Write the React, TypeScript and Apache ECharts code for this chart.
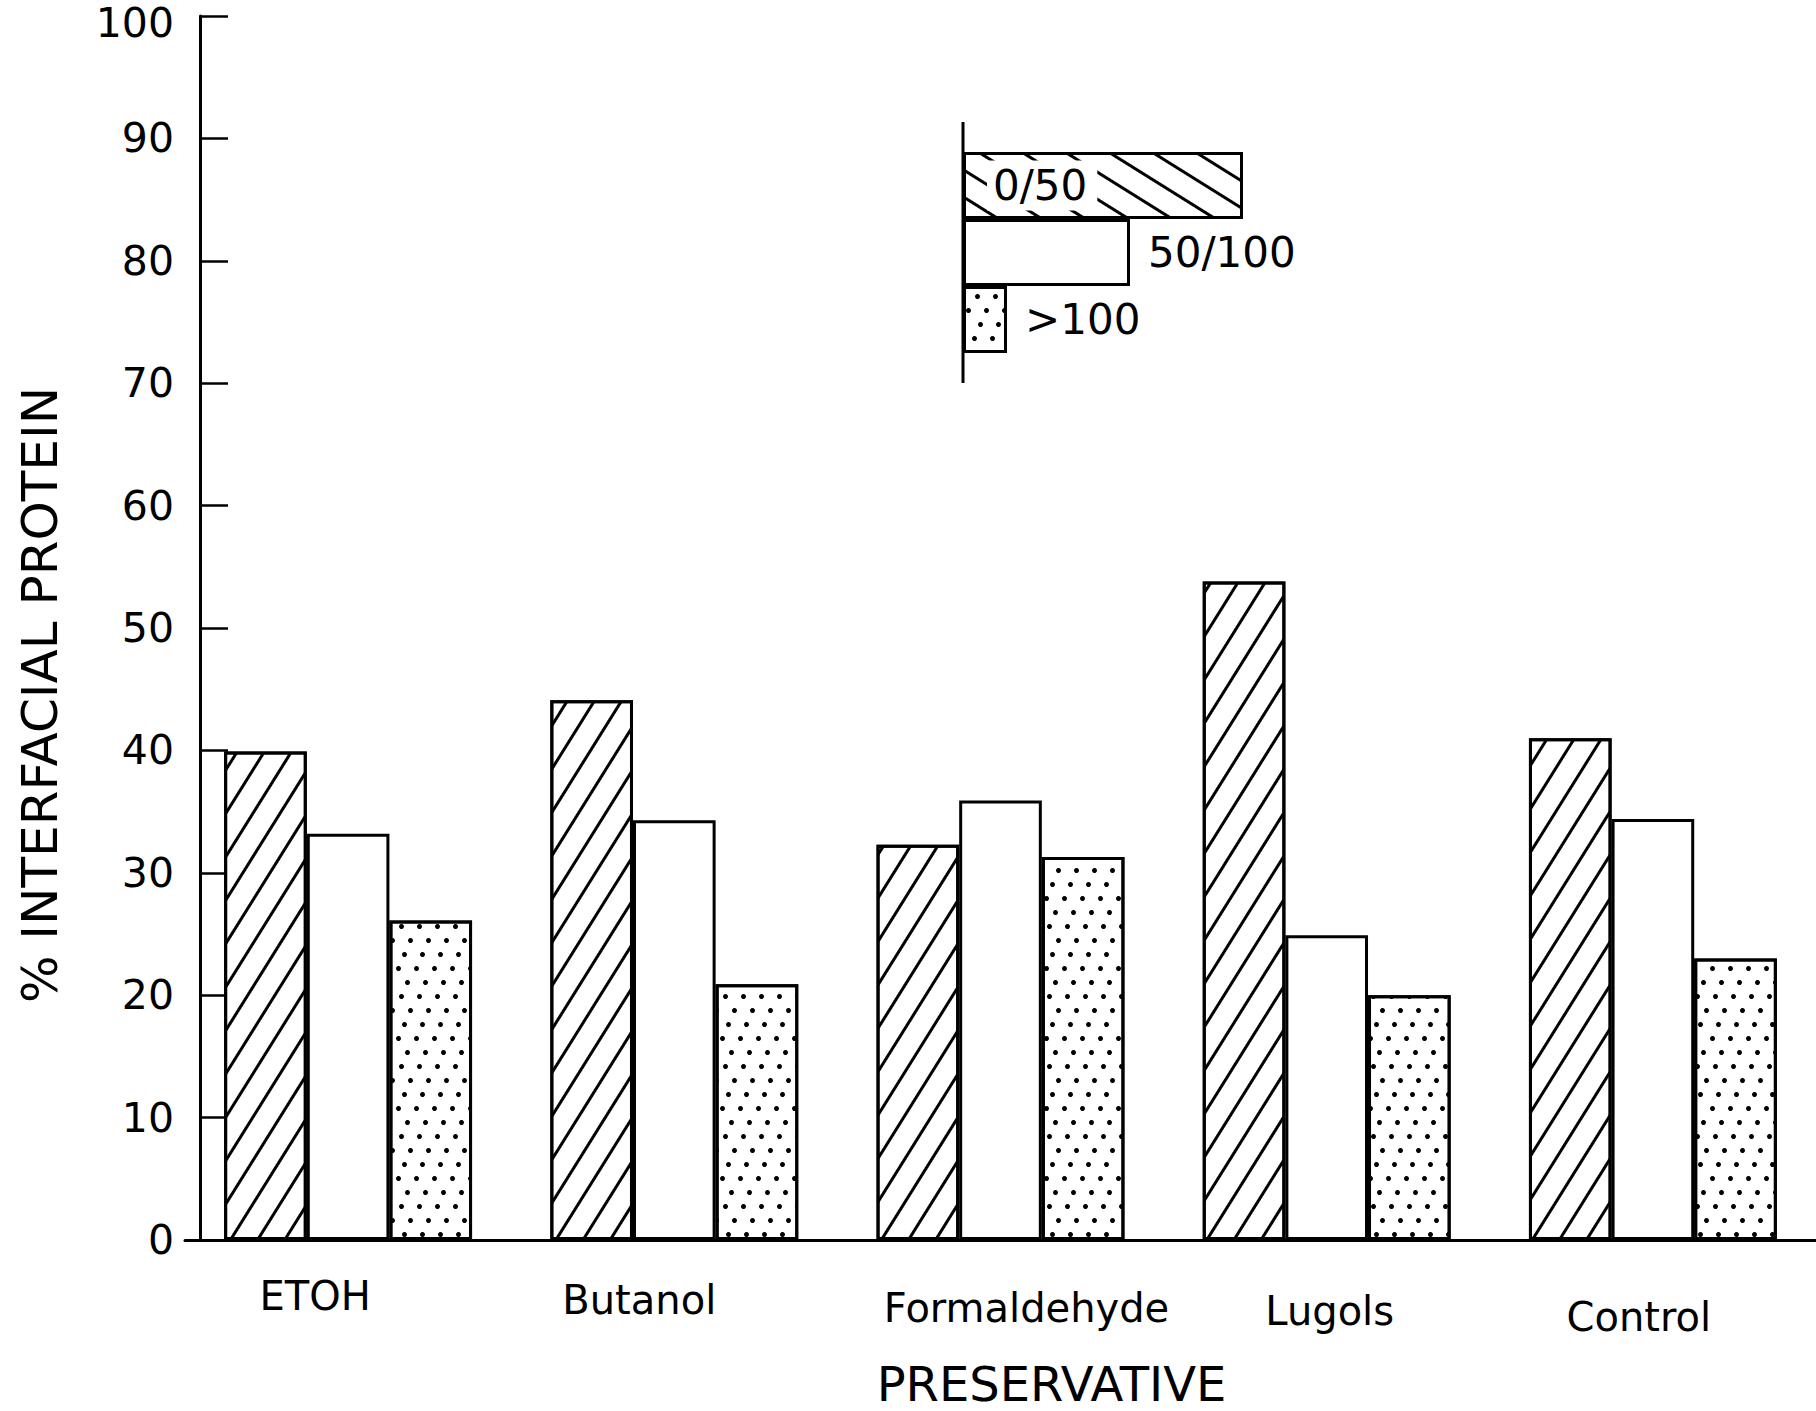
import React, { useEffect, useRef } from "react";
import * as echarts from "echarts";

// ---- data ----
const CATEGORIES = ["ETOH", "Butanol", "Formaldehyde", "Lugols", "Control"];
const SIZE_CLASSES = ["0/50", "50/100", ">100"];
const PCT_0_50 = [39.9, 44.1, 32.3, 53.8, 41.0];
const PCT_50_100 = [33.2, 34.3, 35.9, 24.9, 34.4];
const PCT_OVER_100 = [26.1, 20.9, 31.3, 20.0, 23.0];
const Y_MIN = 0;
const Y_MAX = 100;
const Y_INTERVAL = 10;

// ---- layout / style constants (not data) ----
const FONT = "DejaVu Sans";
const LABEL_SHIFT_X = [-33, -35, 26, 3, -14];
const LABEL_SHIFT_Y = [0, 4, 12, 15, 21];
const LEGEND_KEY_LENGTH = [280, 167, 44];

const hatch = (deg: number) => ({
  symbol: "rect",
  symbolSize: 1,
  dashArrayX: [1, 0],
  dashArrayY: [3, 20],
  rotation: (deg * Math.PI) / 180,
  color: "#000",
  backgroundColor: "#fff",
});

const dots = {
  symbol: "circle",
  symbolSize: 1,
  dashArrayX: [
    [5, 13],
    [0, 9, 5, 4],
    [0, 3, 5, 10],
    [0, 12, 5, 1],
    [0, 6, 5, 7],
  ],
  dashArrayY: [5, 9],
  color: "#000",
  backgroundColor: "#fff",
};

const barStyle = { color: "#fff", borderColor: "#000", borderWidth: 3 };

export default function App() {
  const ref = useRef<HTMLDivElement>(null);
  useEffect(() => {
    if (!ref.current) return;
    const chart = echarts.init(ref.current, null, { renderer: "svg" });
    const seriesValues = [PCT_0_50, PCT_50_100, PCT_OVER_100];
    const decals = [hatch(-58), null, dots];
    const legendDecals = [hatch(32), null, dots];

    const mainSeries = SIZE_CLASSES.map((name, i) => ({
      name,
      type: "bar",
      xAxisIndex: 0,
      yAxisIndex: 0,
      data: seriesValues[i],
      barGap: "0%",
      barCategoryGap: "24%",
      itemStyle: decals[i] ? { ...barStyle, decal: decals[i] } : { ...barStyle },
      silent: true,
    }));

    const legendSeries = {
      type: "bar",
      xAxisIndex: 1,
      yAxisIndex: 1,
      barCategoryGap: "0%",
      silent: true,
      itemStyle: { ...barStyle },
      data: SIZE_CLASSES.map((name, i) => ({
        value: LEGEND_KEY_LENGTH[i],
        itemStyle: legendDecals[i]
          ? { ...barStyle, decal: legendDecals[i] }
          : { ...barStyle },
        label:
          i === 0
            ? {
                show: true,
                position: "insideLeft",
                distance: 24,
                formatter: name,
                backgroundColor: "#fff",
                padding: [4, 10, 4, 6],
                fontSize: 42,
                fontFamily: FONT,
                color: "#000",
              }
            : {
                show: true,
                position: "right",
                distance: 18,
                formatter: name,
                fontSize: 42,
                fontFamily: FONT,
                color: "#000",
              },
      })),
    };

    chart.setOption({
      animation: false,
      backgroundColor: "#fff",
      grid: [
        { left: 185, right: 0, top: 16, bottom: 171, outerBoundsMode: "none", containLabel: false },
        { left: 963, top: 152, width: 300, height: 201, outerBoundsMode: "none", containLabel: false },
      ],
      xAxis: [
        {
          type: "category",
          gridIndex: 0,
          data: CATEGORIES.map((c, i) => ({
            value: c,
            textStyle: {
              padding: [
                LABEL_SHIFT_Y[i],
                LABEL_SHIFT_X[i] < 0 ? -2 * LABEL_SHIFT_X[i] : 0,
                0,
                LABEL_SHIFT_X[i] > 0 ? 2 * LABEL_SHIFT_X[i] : 0,
              ],
            },
          })),
          axisLine: { show: true, lineStyle: { color: "#000", width: 3 } },
          axisTick: { show: false },
          axisLabel: {
            interval: 0,
            fontSize: 40,
            fontFamily: FONT,
            color: "#000",
            margin: 36,
          },
          name: "PRESERVATIVE",
          nameLocation: "middle",
          nameGap: 120,
          nameTextStyle: {
            fontSize: 48,
            fontFamily: FONT,
            color: "#000",
            padding: [0, 0, 0, 102],
          },
        },
        {
          type: "value",
          gridIndex: 1,
          min: 0,
          max: 300,
          show: false,
        },
      ],
      yAxis: [
        {
          type: "value",
          gridIndex: 0,
          min: Y_MIN,
          max: Y_MAX,
          interval: Y_INTERVAL,
          offset: -15,
          axisLine: { show: true, lineStyle: { color: "#000", width: 3 } },
          axisTick: {
            show: true,
            inside: true,
            length: 28,
            lineStyle: { color: "#000", width: 2.5 },
          },
          axisLabel: {
            fontSize: 41,
            fontFamily: FONT,
            color: "#000",
            margin: 26,
            formatter: (v: number) => (v === Y_MAX ? "{top|" + v + "}" : String(v)),
            rich: {
              top: {
                fontSize: 41,
                fontFamily: FONT,
                color: "#000",
                lineHeight: 26,
                padding: [14, 0, 0, 0],
              },
            },
          },
          splitLine: { show: false },
          name: "% INTERFACIAL PROTEIN",
          nameLocation: "middle",
          nameRotate: 90,
          nameGap: 135,
          nameTextStyle: {
            fontSize: 50,
            fontFamily: FONT,
            color: "#000",
            padding: [0, 134, 0, 0],
          },
        },
        {
          type: "category",
          gridIndex: 1,
          data: SIZE_CLASSES,
          inverse: true,
          show: false,
        },
      ],
      graphic: [
        {
          type: "line",
          shape: { x1: 963, y1: 122, x2: 963, y2: 383 },
          style: { stroke: "#000", lineWidth: 3 },
          silent: true,
        },
      ],
      series: [...mainSeries, legendSeries],
    });
    return () => chart.dispose();
  }, []);

  return (
    <div
      ref={ref}
      style={{ position: "absolute", left: 0, top: 0, width: 1816, height: 1411 }}
    />
  );
}
